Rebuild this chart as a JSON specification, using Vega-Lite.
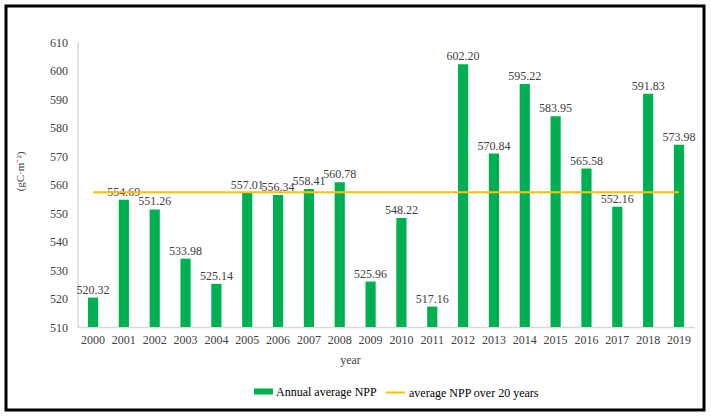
{
  "$schema": "https://vega.github.io/schema/vega-lite/v6.json",
  "width": 698,
  "height": 404,
  "autosize": {"type": "none"},
  "padding": {"left": 6, "top": 6, "right": 7, "bottom": 7},
  "background": "white",
  "config": {
    "view": {"stroke": "#000000", "strokeWidth": 3},
    "font": "Liberation Serif",
    "legend": {"labelFont": "Liberation Serif", "labelFontSize": 12, "labelColor": "#000000"}
  },
  "data": {
    "values": [
      {"year": "2000", "npp": 520.32, "avg": 557.25},
      {"year": "2001", "npp": 554.69, "avg": 557.25},
      {"year": "2002", "npp": 551.26, "avg": 557.25},
      {"year": "2003", "npp": 533.98, "avg": 557.25},
      {"year": "2004", "npp": 525.14, "avg": 557.25},
      {"year": "2005", "npp": 557.01, "avg": 557.25},
      {"year": "2006", "npp": 556.34, "avg": 557.25},
      {"year": "2007", "npp": 558.41, "avg": 557.25},
      {"year": "2008", "npp": 560.78, "avg": 557.25},
      {"year": "2009", "npp": 525.96, "avg": 557.25},
      {"year": "2010", "npp": 548.22, "avg": 557.25},
      {"year": "2011", "npp": 517.16, "avg": 557.25},
      {"year": "2012", "npp": 602.20, "avg": 557.25},
      {"year": "2013", "npp": 570.84, "avg": 557.25},
      {"year": "2014", "npp": 595.22, "avg": 557.25},
      {"year": "2015", "npp": 583.95, "avg": 557.25},
      {"year": "2016", "npp": 565.58, "avg": 557.25},
      {"year": "2017", "npp": 552.16, "avg": 557.25},
      {"year": "2018", "npp": 591.83, "avg": 557.25},
      {"year": "2019", "npp": 573.98, "avg": 557.25}
    ]
  },
  "encoding": {
    "x": {
      "field": "year",
      "type": "ordinal",
      "scale": {"range": [71.6, 688.4], "paddingInner": 0.67, "paddingOuter": 0.335},
      "axis": {
        "offset": -83,
        "labelAngle": 0,
        "ticks": false,
        "domainColor": "#d9d9d9",
        "domainWidth": 1.5,
        "labelPadding": 7,
        "labelFont": "Liberation Serif",
        "labelFontSize": 12,
        "labelColor": "#404040",
        "title": "year",
        "titleFont": "Liberation Serif",
        "titleFontSize": 12,
        "titleFontWeight": "normal",
        "titleColor": "#404040",
        "titleX": 344,
        "titleY": 27
      }
    }
  },
  "layer": [
    {
      "mark": {"type": "bar"},
      "encoding": {
        "y": {
          "field": "npp",
          "type": "quantitative",
          "scale": {"domain": [510, 610], "range": [321, 36], "nice": false, "zero": false, "clamp": true},
          "axis": {
            "offset": -71.6,
            "values": [510, 520, 530, 540, 550, 560, 570, 580, 590, 600, 610],
            "grid": false,
            "ticks": false,
            "domainColor": "#d9d9d9",
            "domainWidth": 1.5,
            "labelPadding": 10,
            "labelFont": "Liberation Serif",
            "labelFontSize": 12,
            "labelColor": "#404040",
            "title": "(gC·m⁻²)",
            "titleFont": "Liberation Serif",
            "titleFontSize": 11,
            "titleFontWeight": "normal",
            "titleColor": "#404040",
            "titleX": -52,
            "titleY": 165
          }
        },
        "y2": {"datum": 510},
        "fill": {
          "datum": "Annual average NPP",
          "type": "nominal",
          "scale": {"range": ["#00B050"]},
          "legend": {
            "title": null,
            "orient": "none",
            "legendX": 248,
            "legendY": 376,
            "padding": 0,
            "symbolType": "M-1,-0.316H1V0.316H-1Z",
            "symbolSize": 361,
            "symbolStrokeWidth": 0,
            "labelFont": "Liberation Serif",
            "labelFontSize": 12,
            "labelColor": "#000000",
            "labelOffset": 3
          }
        }
      }
    },
    {
      "mark": {"type": "text", "dy": -8, "font": "Liberation Serif", "fontSize": 12, "color": "#404040"},
      "encoding": {
        "y": {"field": "npp", "type": "quantitative"},
        "text": {"field": "npp", "type": "quantitative", "format": ".2f"}
      }
    },
    {
      "mark": {"type": "line", "strokeWidth": 2},
      "encoding": {
        "y": {"field": "avg", "type": "quantitative"},
        "stroke": {
          "datum": "average NPP over 20 years",
          "type": "nominal",
          "scale": {"range": ["#FFC000"]},
          "legend": {
            "title": null,
            "orient": "none",
            "legendX": 379,
            "legendY": 376,
            "padding": 0,
            "symbolType": "stroke",
            "symbolSize": 361,
            "symbolStrokeWidth": 2,
            "labelFont": "Liberation Serif",
            "labelFontSize": 12,
            "labelColor": "#000000",
            "labelOffset": 3
          }
        }
      }
    }
  ]
}
